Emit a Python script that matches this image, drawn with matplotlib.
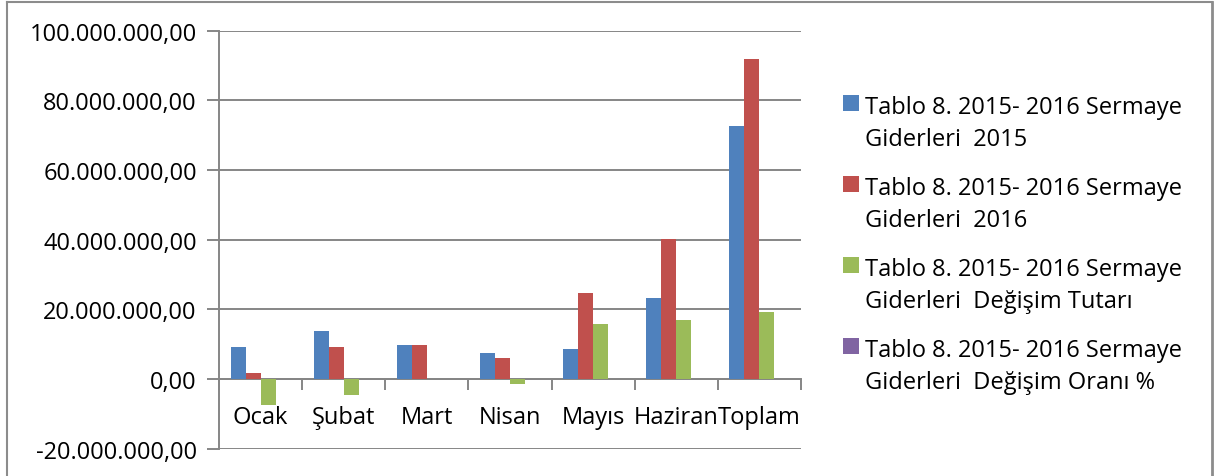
import matplotlib
matplotlib.use("Agg")
import matplotlib.pyplot as plt
from matplotlib.lines import Line2D
from matplotlib.patches import Patch
import numpy as np

categories = ["Ocak", "Şubat", "Mart", "Nisan", "Mayıs", "Haziran", "Toplam"]
gider_2015 = [9.1e6, 13.8e6, 9.8e6, 7.5e6, 8.6e6, 23.2e6, 72.5e6]
gider_2016 = [1.6e6, 9.1e6, 9.85e6, 6.1e6, 24.5e6, 40.1e6, 91.8e6]
degisim_tutari = [-7.6e6, -4.7e6, 0.05e6, -1.5e6, 15.8e6, 16.8e6, 19.1e6]
degisim_orani = [-82.0, -34.0, 1.0, -19.0, 184.0, 73.0, 26.0]

series_labels = [
    "Tablo 8. 2015- 2016 Sermaye\nGiderleri  2015",
    "Tablo 8. 2015- 2016 Sermaye\nGiderleri  2016",
    "Tablo 8. 2015- 2016 Sermaye\nGiderleri  Değişim Tutarı",
    "Tablo 8. 2015- 2016 Sermaye\nGiderleri  Değişim Oranı %",
]
colors = ["#4F81BD", "#C0504D", "#9BBB59", "#8064A2"]
yticks = [-20e6, 0, 20e6, 40e6, 60e6, 80e6, 100e6]

def fmt(v):
    s = f"{v:,.2f}"
    return s.replace(",", "X").replace(".", ",").replace("X", ".")

plt.rcParams['font.family'] = ['Open Sans', 'DejaVu Sans']
FS = 17

W, H = 1214, 477
fig = plt.figure(figsize=(W / 100, H / 100), dpi=100)
ax = fig.add_axes([219 / W, 1 - 449.5 / H, (801 - 219) / W, (449.5 - 31.5) / H])

x = np.arange(len(categories))
bw = 0.18
series = [gider_2015, gider_2016, degisim_tutari, degisim_orani]
for i, (vals, c) in enumerate(zip(series, colors)):
    ax.bar(x + (i - 1.5) * bw, vals, width=bw, color=c, edgecolor="none", zorder=3)

ax.set_xlim(-0.5, len(categories) - 0.5)
ax.set_ylim(-20e6, 100e6)
ax.set_yticks(yticks)
ax.set_yticklabels([fmt(v) for v in yticks], fontsize=FS, color="#000000")
ax.yaxis.grid(True, color="#868686", linewidth=1.4, zorder=0)
ax.tick_params(axis="y", direction="out", length=9, width=1.4, color="#868686", pad=7)

ax.spines["bottom"].set_position(("data", 0))
ax.spines["bottom"].set_color("#868686")
ax.spines["bottom"].set_linewidth(1.4)
ax.spines["left"].set_color("#868686")
ax.spines["left"].set_linewidth(1.4)
ax.spines["top"].set_visible(False)
ax.spines["right"].set_visible(False)

ax.set_xticks(np.arange(len(categories) + 1) - 0.5)
ax.set_xticklabels([])
ax.set_xticks(x, minor=True)
ax.set_xticklabels(categories, minor=True, fontsize=FS)
ax.tick_params(axis="x", which="major", direction="out", length=8, width=1.4, color="#868686")
ax.tick_params(axis="x", which="minor", length=0, pad=19)

handles = [Patch(facecolor=c, edgecolor="none") for c in colors]
leg = fig.legend(handles, series_labels, loc="upper left", bbox_to_anchor=(843 / W, 1 - 96 / H),
                 frameon=False, fontsize=FS, handlelength=0.68, handleheight=0.68,
                 handletextpad=0.25, labelspacing=1.08, borderaxespad=0, borderpad=0)
for t in leg.get_texts():
    t.set_linespacing(1.42)
for col in leg._legend_handle_box.get_children():
    for row in col.get_children():
        row.align = "top"

# outer chart frame
fc = "#8c8c8c"
fig.add_artist(Line2D([7 / W, 1211.5 / W], [1 - 2.5 / H, 1 - 2.5 / H], color=fc, lw=1.5, transform=fig.transFigure))
fig.add_artist(Line2D([7 / W, 7 / W], [0, 1 - 2.5 / H], color=fc, lw=1.5, transform=fig.transFigure))
fig.add_artist(Line2D([1211.5 / W, 1211.5 / W], [0, 1 - 2.5 / H], color=fc, lw=2, transform=fig.transFigure))

fig.savefig("out.png", dpi=100)
